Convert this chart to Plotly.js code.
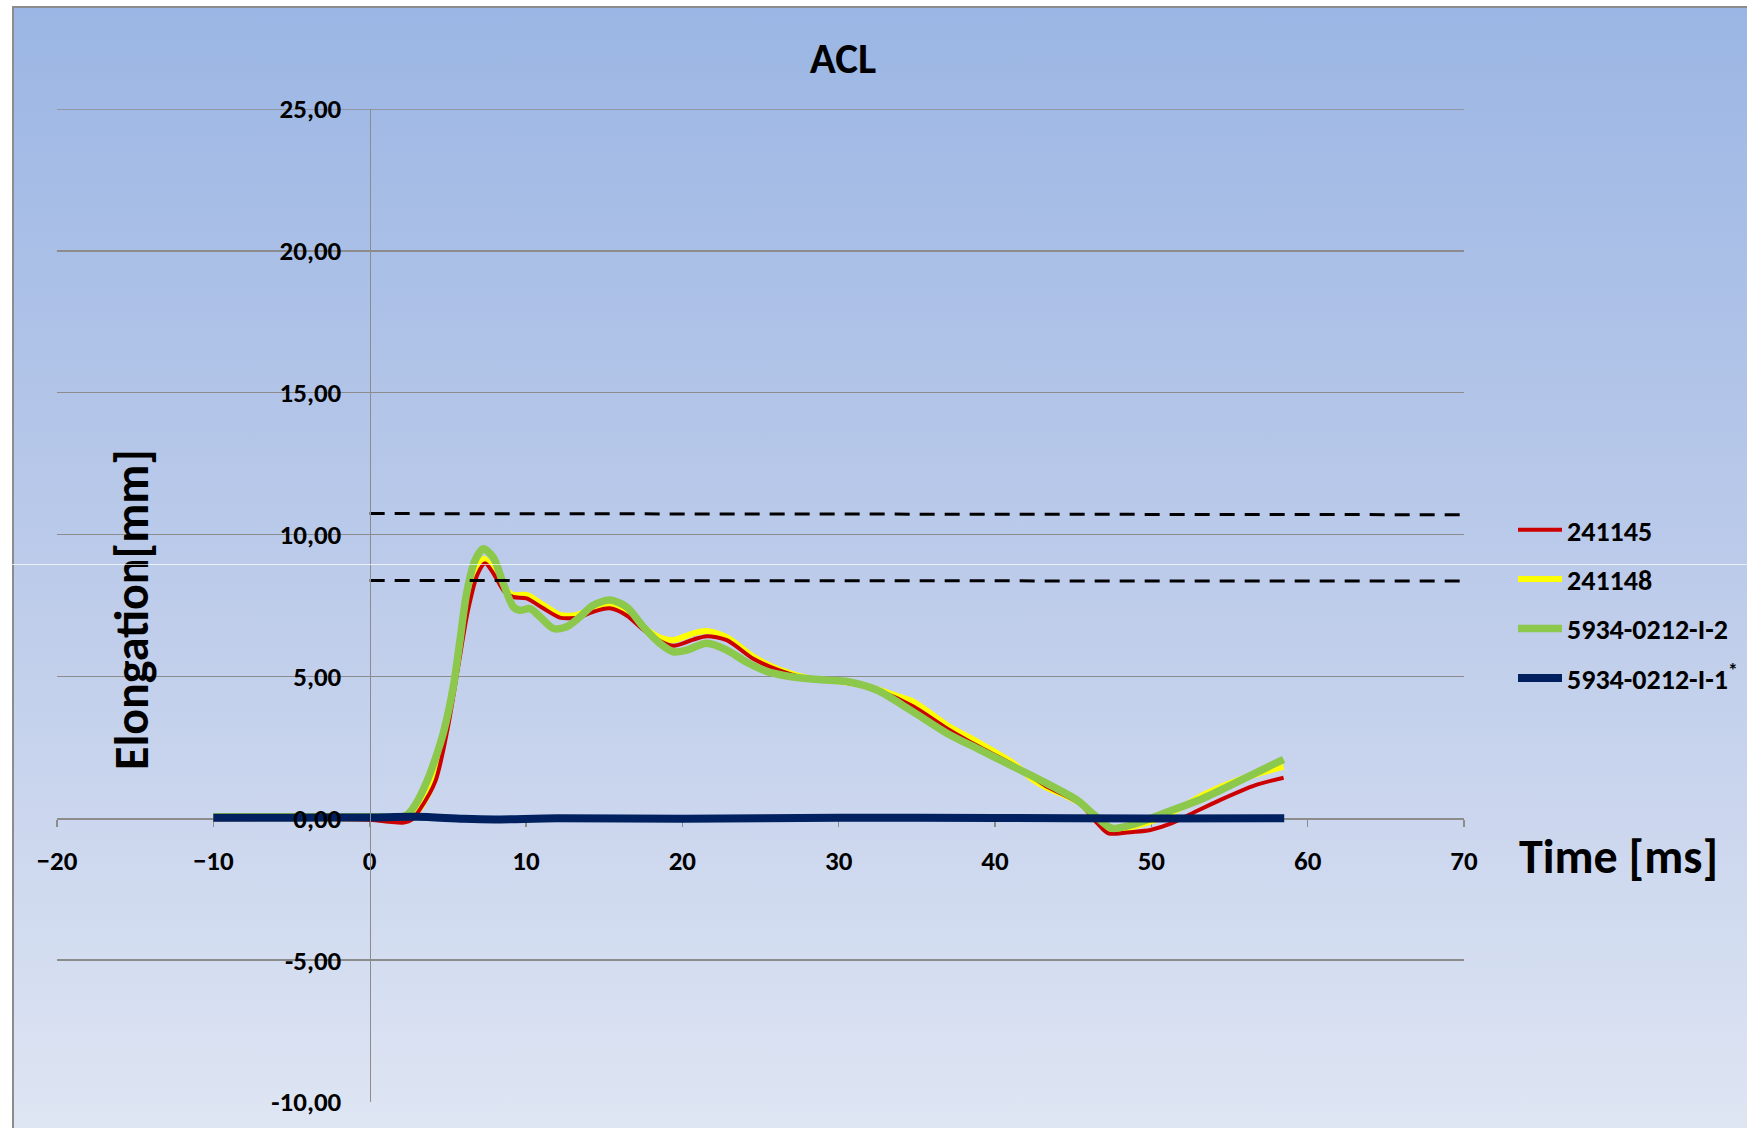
<!DOCTYPE html>
<html><head><meta charset="utf-8">
<script src="https://cdn.plot.ly/plotly-3.0.1.min.js"></script>
<style>
html,body{margin:0;padding:0;background:#fff;width:1747px;height:1128px;overflow:hidden}
#bg{position:absolute;left:12px;top:6px;width:1735px;height:1122px;background:linear-gradient(to bottom,#9BB6E4 0%,#BCCBEA 50%,#DEE5F3 100%);border-left:2px solid #8c8c8c;border-top:2px solid #8c8c8c;box-sizing:border-box}
#seam{position:absolute;left:0;top:564px;width:1747px;height:1px;background:rgba(255,255,255,0.7);pointer-events:none}
#chart{position:absolute;left:0;top:0;width:1747px;height:1128px}
</style></head>
<body>
<div id="bg"></div>
<div id="chart"></div>
<div id="seam"></div>
<script>
// ---- data ----
const timeRed = [-10,0,1.2,2.2,2.7,3.2,4.2,5.0,5.65,6.28,6.9,7.38,7.95,8.6,9.19,10.04,11.1,12.17,12.8,13.5,14.3,15.37,16.44,17.5,18.57,19.43,20.7,21.56,22.84,24.54,26.25,28.17,30.09,31.37,32.65,34.78,36.92,39.05,41.18,43.22,45.46,46.58,47.25,48.82,49.94,51.28,52.63,54.42,56.66,58.46];
const elongRed = [-0.03,-0.05,-0.12,-0.15,-0.05,0.3,1.3,3.2,5.3,7.3,8.6,8.99,8.6,8.0,7.8,7.75,7.4,7.07,7.05,7.1,7.28,7.4,7.15,6.65,6.25,6.08,6.3,6.42,6.28,5.62,5.2,4.9,4.8,4.68,4.48,3.94,3.17,2.5,1.88,1.15,0.5,-0.2,-0.53,-0.48,-0.41,-0.18,0.18,0.65,1.17,1.43];

const timeYellow = [-10,0,2.4,2.8,3.4,4.07,4.93,5.57,6.2,6.85,7.31,7.9,8.55,9.19,10.04,11.1,12.17,13.24,14.3,15.37,16.44,17.5,18.57,19.43,20.7,21.56,22.84,24.54,26.25,28.17,30.09,31.37,32.65,33.8,34.78,36.92,39.05,41.18,42.46,43.22,45.46,46.58,47.25,48.82,51.06,53.3,55.54,58.46];
const elongYellow = [0,0,0,0.1,0.5,1.26,3.25,5.34,7.34,8.74,9.15,8.74,8.16,7.87,7.87,7.52,7.17,7.17,7.4,7.52,7.28,6.75,6.37,6.28,6.52,6.6,6.38,5.7,5.23,4.93,4.82,4.7,4.52,4.3,4.11,3.29,2.64,1.94,1.35,1.1,0.53,-0.12,-0.41,-0.3,0.12,0.82,1.35,1.82];

const timeGreen = [-10,-5,0,2.0,2.4,3.0,3.63,4.2,4.71,5.35,5.78,6.2,6.74,7.27,7.9,8.55,9.19,9.62,10.26,10.9,11.75,12.6,13.45,14.3,15.37,16.44,17.5,18.57,19.43,20.28,21.56,22.84,24.12,25.4,27.1,29.24,30.52,32.44,34.57,36.92,39.05,41.18,43.31,45.23,46.35,47.47,49.05,51.06,53.3,55.54,58.46];
const elongGreen = [0.05,0.05,0.05,0.05,0.12,0.55,1.26,2.1,3.0,4.64,6.28,7.92,9.09,9.5,9.2,8.27,7.45,7.33,7.39,7.1,6.69,6.75,7.1,7.51,7.69,7.45,6.75,6.16,5.87,5.93,6.17,5.93,5.5,5.18,4.98,4.87,4.82,4.52,3.82,3.0,2.41,1.82,1.23,0.65,0.12,-0.35,-0.18,0.23,0.7,1.29,2.08];

const timeNavy = [-10,-5,0,3,6,8,12,20,30,40,50,58.5];
const elongNavy = [0.02,0.02,0.03,0.05,-0.02,-0.04,0,-0.02,0.02,0.01,-0.01,0.0];

const limitTime = [0,70];
const upperLimit = [10.74,10.70];
const lowerLimit = [8.38,8.36];

const seriesNames = ['241145','241148','5934-0212-I-2','5934-0212-I-1<sup>*</sup>'];
const xTickVals = [-20,-10,0,10,20,30,40,50,60,70];
const yTickVals = [-10,-5,0,5,10,15,20,25];
const yTickText = ['-10,00','-5,00','0,00','5,00','10,00','15,00','20,00','25,00'];

const FONT = 'Carlito, Lato, "Open Sans", sans-serif';
const GRID = '#8c8c8c';

const traces = [
  {x:timeYellow,y:elongYellow,mode:'lines',name:seriesNames[1],legendgroup:'g2',legendrank:2,
   line:{color:'#FFFF00',width:6,shape:'spline',smoothing:0.8}},
  {x:timeRed,y:elongRed,mode:'lines',name:seriesNames[0],legendgroup:'g1',legendrank:1,
   line:{color:'#CC0000',width:4,shape:'spline',smoothing:0.8}},
  {x:timeGreen,y:elongGreen,mode:'lines',name:seriesNames[2],legendgroup:'g3',legendrank:3,
   line:{color:'#8CC84B',width:7.5,shape:'spline',smoothing:0.8}},
  {x:timeNavy,y:elongNavy,mode:'lines',name:seriesNames[3],legendgroup:'g4',legendrank:4,
   line:{color:'#002060',width:8,shape:'spline',smoothing:0.8}},
  {x:limitTime,y:upperLimit,mode:'lines',showlegend:false,hoverinfo:'skip',
   line:{color:'#000000',width:3,dash:'15px,10px'}},
  {x:limitTime,y:lowerLimit,mode:'lines',showlegend:false,hoverinfo:'skip',
   line:{color:'#000000',width:3,dash:'15px,10px'}}
];

const topTick = yTickVals[yTickVals.length-1];

const layout = {
  width:1747,height:1128,
  paper_bgcolor:'rgba(0,0,0,0)',plot_bgcolor:'rgba(0,0,0,0)',
  margin:{l:57,r:283,t:109,b:26,autoexpand:false},
  font:{family:FONT,color:'#000',size:27,weight:'bold'},
  title:{text:'<b>ACL</b>',font:{family:FONT,size:43,color:'#000'},xref:'container',yref:'container',
         x:843/1747,xanchor:'center',y:1-58/1128,yanchor:'middle'},
  xaxis:{range:[-20,70],tickvals:xTickVals,ticks:'outside',ticklen:7,tickcolor:GRID,tickwidth:1.5,
         showline:true,linecolor:GRID,linewidth:1.5,showgrid:false,zeroline:false,layer:'below traces',
         anchor:'free',position:10/35,ticklabelstandoff:11,
         tickfont:{family:FONT,size:27,color:'#000',weight:'bold'}},
  yaxis:{range:[-10,25],tickvals:yTickVals,ticktext:yTickText,ticks:'',
         showline:true,linecolor:GRID,linewidth:1.5,showgrid:true,gridcolor:GRID,gridwidth:1.5,
         zeroline:false,anchor:'free',position:20/90,ticklabelstandoff:23,
         tickfont:{family:FONT,size:27,color:'#000',weight:'bold'}},
  shapes:[
    {type:'line',xref:'paper',yref:'y',x0:0,x1:1,y0:topTick,y1:topTick,layer:'below',
     line:{color:GRID,width:1.5}}
  ],
  showlegend:true,
  legend:{x:(1513-57)/1407,xanchor:'left',y:(1102-505)/993,yanchor:'top',
          bgcolor:'rgba(0,0,0,0)',traceorder:'grouped',tracegroupgap:10,itemwidth:44,
          font:{family:FONT,size:28,color:'#000',weight:'bold'}},
  annotations:[
    {text:'<b>Elongation[mm]</b>',xref:'paper',yref:'paper',x:(131-57)/1407,y:(1102-610)/993,
     textangle:-90,showarrow:false,xanchor:'center',yanchor:'middle',font:{family:FONT,size:48,color:'#000'}},
    {text:'<b>Time [ms]</b>',xref:'paper',yref:'paper',x:(1618-57)/1407,y:(1102-856)/993,
     showarrow:false,xanchor:'center',yanchor:'middle',font:{family:FONT,size:48,color:'#000'}}
  ]
};

Plotly.newPlot('chart',traces,layout,{displayModeBar:false,staticPlot:true});
</script>
</body></html>
